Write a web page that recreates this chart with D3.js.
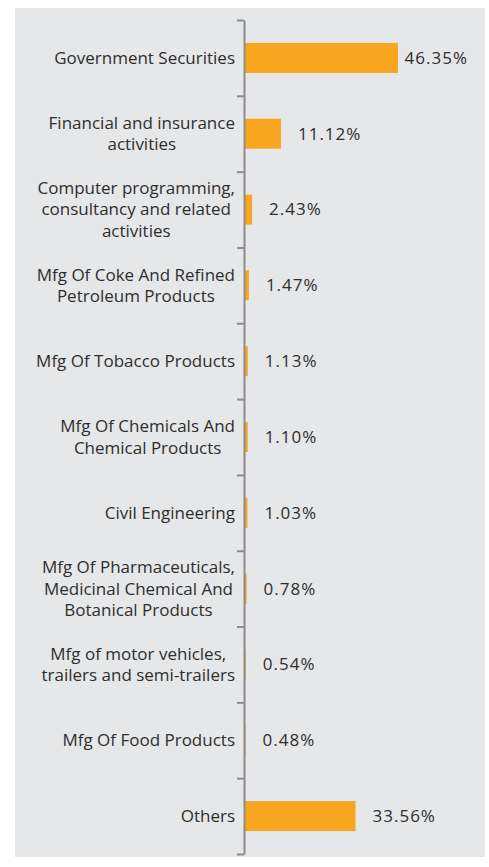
<!DOCTYPE html>
<html>
<head>
<meta charset="utf-8">
<script src="https://cdn.jsdelivr.net/npm/d3@7"></script>
<style>
  body { margin: 0; background: #fff; }
  text { font-family: "Open Sans", sans-serif; fill: #2e2e2e; }
</style>
</head>
<body>
<div id="chart"></div>
<script>
// sectors, top to bottom (line breaks as printed)
const sectors = [
  "Government Securities",
  "Financial and insurance\nactivities",
  "Computer programming,\nconsultancy and related\nactivities",
  "Mfg Of Coke And Refined\nPetroleum Products",
  "Mfg Of Tobacco Products",
  "Mfg Of Chemicals And\nChemical Products",
  "Civil Engineering",
  "Mfg Of Pharmaceuticals,\nMedicinal Chemical And\nBotanical Products",
  "Mfg of motor vehicles,\ntrailers and semi-trailers",
  "Mfg Of Food Products",
  "Others"
];
const weights = [46.35, 11.12, 2.43, 1.47, 1.13, 1.10, 1.03, 0.78, 0.54, 0.48, 33.56];

const width = 489, height = 867;
const axisX = 244;
const fontSize = 17, lineH = 21.5;

let svg = d3.select("#chart")
    .append("svg")
    .attr("width", width)
    .attr("height", height);

// grey panel
svg.append("rect")
    .attr("x", 15).attr("y", 8)
    .attr("width", 470).attr("height", 849)
    .attr("fill", "#e6e7e8");

let y = d3.scaleBand()
    .domain(sectors)
    .range([20, 854])
    .padding(0);

let x = d3.scaleLinear()
    .domain([0, 46.35])
    .range([axisX, 398]);

// tick positions sit on the band boundaries
let yEdge = d3.scaleLinear()
    .domain([0, sectors.length])
    .range(y.range());

let barH = 30;

svg.selectAll(".bar")
    .data(sectors)
    .enter()
    .append("rect")
      .attr("class", "bar")
      .attr("x", x(0))
      .attr("y", d => y(d) + y.bandwidth() / 2 - barH / 2)
      .attr("width", (d, i) => x(weights[i]) - x(0))
      .attr("height", barH)
      .attr("fill", "#f8a61f");

let axis = svg.append("g")
    .attr("transform", `translate(${axisX},0)`)
    .call(d3.axisLeft(yEdge)
        .tickValues(d3.range(sectors.length + 1))
        .tickSize(7)
        .tickSizeOuter(0)
        .tickFormat(""));
axis.select(".domain").attr("stroke", "#8c8c8c").attr("stroke-width", 2);
axis.selectAll(".tick line").attr("stroke", "#8c8c8c").attr("stroke-width", 2);

// category labels: lines centred within a right-aligned block
sectors.forEach(function (s) {
    let lines = s.split("\n");
    let g = svg.append("g");
    let t = g.append("text")
        .style("font-size", fontSize + "px")
        .attr("text-anchor", "middle");
    let cy = y(s) + y.bandwidth() / 2;
    let first = cy - (lines.length - 1) * lineH / 2 + fontSize * 0.35;
    lines.forEach(function (l, i) {
        t.append("tspan")
            .attr("x", 0)
            .attr("y", first + i * lineH)
            .text(l);
    });
    let w = t.node().getBBox().width;
    g.attr("transform", `translate(${235 - w / 2},0)`);
});

// value labels
svg.selectAll(".val")
    .data(sectors)
    .enter()
    .append("text")
      .attr("class", "val")
      .style("font-size", fontSize + "px")
      .style("letter-spacing", "1px")
      .attr("y", d => y(d) + y.bandwidth() / 2 + fontSize * 0.35)
      .text((d, i) => weights[i].toFixed(2) + "%")
      .attr("x", function (d, i) {
          let w = this.getComputedTextLength();
          return Math.min(x(weights[i]) + 17, 468 - w);
      });
</script>
</body>
</html>
